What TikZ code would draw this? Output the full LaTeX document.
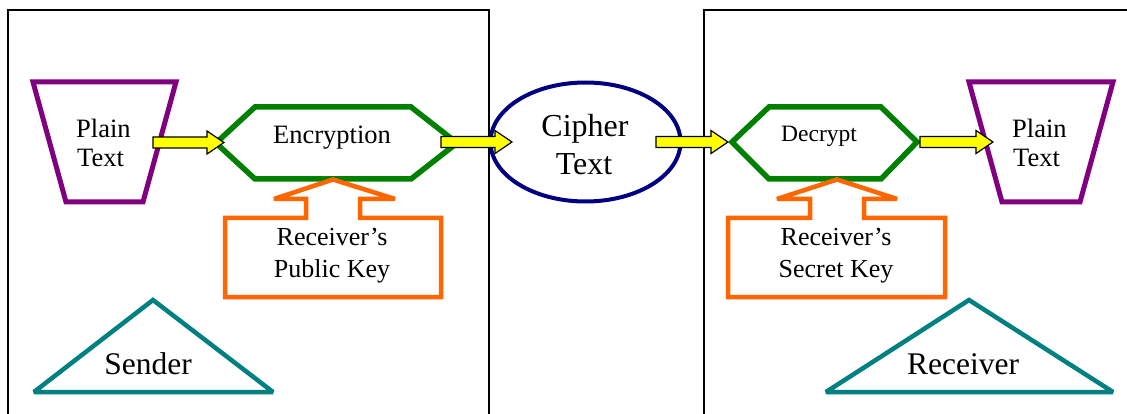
\documentclass[tikz,border=0pt]{standalone}
\usepackage{fontspec}
\setmainfont{LiberationSerif}[Extension=.ttf, UprightFont=*-Regular]
\usetikzlibrary{calc}

\definecolor{plainpurple}{HTML}{800080}
\definecolor{cryptgreen}{HTML}{008000}
\definecolor{ciphernavy}{HTML}{000080}
\definecolor{keyorange}{HTML}{FF6600}
\definecolor{partyteal}{HTML}{008080}
\definecolor{flowyellow}{HTML}{FFFF00}

% block arrow from a start coordinate to a tip coordinate
\newcommand\blockarrow[2]{%
  \draw[blockarr] let \p1=(#1), \p2=(#2) in
    (\x1,\y1-5.5pt) -- (\x2-17pt,\y1-5.5pt) -- (\x2-17pt,\y1-11.5pt) --
    (\x2,\y2) --
    (\x2-17pt,\y1+11.5pt) -- (\x2-17pt,\y1+5.5pt) -- (\x1,\y1+5.5pt) -- cycle;}

\begin{document}
\begin{tikzpicture}[x=1pt,y=-1pt,
  lbl/.style={inner sep=0pt, anchor=base},
  frame/.style={draw=black, line width=1.8pt},
  plainbox/.style={draw=plainpurple, line width=5pt, line join=miter},
  cryptbox/.style={draw=cryptgreen, line width=5.5pt, line join=miter},
  cipherbox/.style={draw=ciphernavy, line width=4pt},
  keybox/.style={draw=keyorange, line width=4.5pt, line join=miter, miter limit=2},
  partybox/.style={draw=partyteal, line width=4.5pt, line join=miter, miter limit=2},
  blockarr/.style={draw=black, fill=flowyellow, line width=1.2pt, line join=miter},
  fplain/.style={font=\fontsize{26.5}{30}\selectfont},
  fcrypt/.style={font=\fontsize{26.5}{30}\selectfont},
  fdecrypt/.style={font=\fontsize{23.5}{28}\selectfont},
  fcipher/.style={font=\fontsize{32}{38}\selectfont},
  fkey/.style={font=\fontsize{26}{31}\selectfont},
  fparty/.style={font=\fontsize{31.5}{36}\selectfont}]

\useasboundingbox (0,0) rectangle (1127,414);
\clip (0,0) rectangle (1127,414);

% sender and receiver frames
\draw[frame] (8,10) rectangle (489,430);
\draw[frame] (704,10) rectangle (1140,430);

% plain text trapezoids
\draw[plainbox] (33,82) -- (176,82) -- (143,202) -- (66,202) -- cycle;
\draw[plainbox] (969,82) -- (1113,82) -- (1080,202) -- (1002,202) -- cycle;

% encryption and decryption hexagons
\draw[cryptbox] (216,143) -- (255,107) -- (411,107) -- (457,143) -- (411,179) -- (255,179) -- cycle;
\draw[cryptbox] (732,142) -- (769,107) -- (881,107) -- (917,142) -- (881,179) -- (769,179) -- cycle;

% cipher text ellipse
\draw[cipherbox] (585.5,142) ellipse [x radius=95, y radius=59.5];

% key callouts
\draw[keybox] (225,218) -- (306,218) -- (306,199) -- (274,199) -- (333,179.5) --
  (395,199) -- (360,199) -- (360,218) -- (441,218) -- (441,297) -- (225,297) -- cycle;
\draw[keybox] (728,218) -- (810,218) -- (810,199) -- (777,199) -- (837,179.5) --
  (897,199) -- (864,199) -- (864,218) -- (945,218) -- (945,297) -- (728,297) -- cycle;

% party triangles
\draw[partybox] (34,392) -- (153,300) -- (273,392) -- cycle;
\draw[partybox] (826,392) -- (969,300) -- (1113,392) -- cycle;

% labels
\node[lbl, fplain, anchor=base west] (plainA1) at (76,138) {Plain};
\node[lbl, fplain, anchor=base west] (plainA2) at (77,167) {Text};
\node[lbl, fcrypt] (encr) at (332,144) {Encryption};
\node[lbl, fcipher] (ciph1) at (585,137) {Cipher};
\node[lbl, fcipher] (ciph2) at (584,175) {Text};
\node[lbl, fdecrypt] (decr) at (819,142) {Decrypt};
\node[lbl, fplain, anchor=base west] (plainB1) at (1012,138) {Plain};
\node[lbl, fplain, anchor=base west] (plainB2) at (1013,167) {Text};
\node[lbl, fkey] (pubk1) at (332,246) {Receiver’s};
\node[lbl, fkey] (pubk2) at (332,277) {Public Key};
\node[lbl, fkey] (seck1) at (836,246) {Receiver’s};
\node[lbl, fkey] (seck2) at (836,277) {Secret Key};
\node[lbl, fparty] (sender) at (148,374) {Sender};
\node[lbl, fparty] (receiver) at (963,374) {Receiver};

% flow arrows
\coordinate (plainAout) at (153,142.5);
\coordinate (encrin) at (224,142.5);
\coordinate (encrout) at (441,142);
\coordinate (ciphin) at (512,142);
\coordinate (ciphout) at (656,142);
\coordinate (decrin) at (728,142);
\coordinate (decrout) at (920,142);
\coordinate (plainBin) at (993,142);
\blockarrow{plainAout}{encrin}
\blockarrow{encrout}{ciphin}
\blockarrow{ciphout}{decrin}
\blockarrow{decrout}{plainBin}

\end{tikzpicture}
\end{document}
